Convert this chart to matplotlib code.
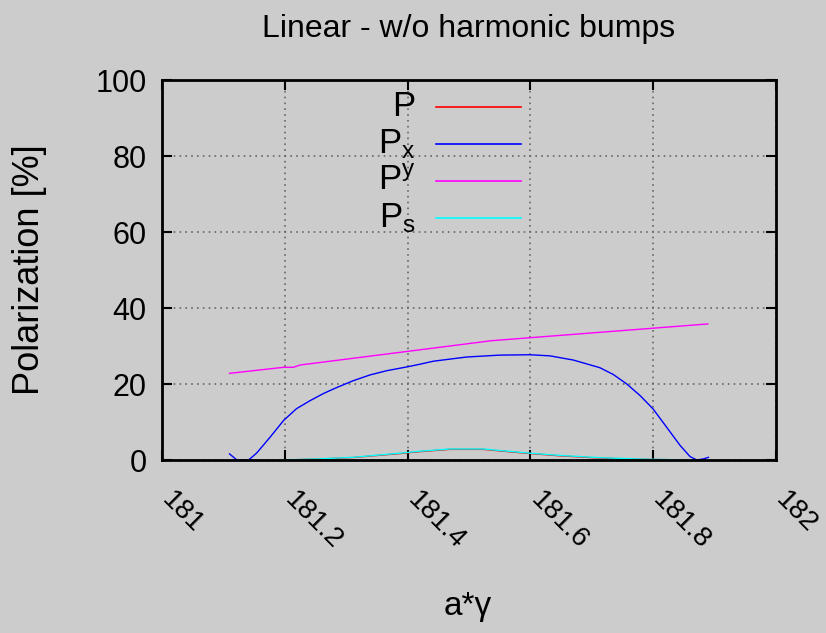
import matplotlib.pyplot as plt
import matplotlib.transforms as mtransforms
import numpy as np

plt.rcParams['font.family'] = ['Liberation Sans', 'DejaVu Sans']
plt.rcParams['mathtext.fontset'] = 'custom'
plt.rcParams['mathtext.rm'] = 'Liberation Sans'
plt.rcParams['mathtext.it'] = 'Liberation Sans'

# -------------------------------
# Data
# -------------------------------
x_py = [181.110, 181.198, 181.214, 181.225, 181.537, 181.889]
py = [22.8, 24.4, 24.4, 25.0, 31.4, 35.8]

x_px = [181.110, 181.122, 181.141, 181.154, 181.176, 181.198, 181.219, 181.241,
        181.263, 181.285, 181.312, 181.339, 181.366, 181.399, 181.420, 181.442,
        181.496, 181.550, 181.599, 181.632, 181.670, 181.713, 181.735, 181.757,
        181.779, 181.800, 181.822, 181.844, 181.860, 181.871, 181.882, 181.890]
px = [1.6, 0.0, 0.0, 1.8, 6.0, 10.4, 13.5, 15.6,
      17.5, 19.1, 20.9, 22.4, 23.5, 24.5, 25.2, 26.0,
      27.1, 27.6, 27.7, 27.4, 26.3, 24.3, 22.5, 20.0,
      16.9, 13.4, 8.6, 3.8, 0.9, 0.0, 0.3, 0.7]

x_p = [181.197, 181.257, 181.311, 181.388, 181.420, 181.469, 181.523, 181.550,
       181.599, 181.648, 181.713, 181.779, 181.860]
p = [0.0, 0.25, 0.65, 1.7, 2.2, 2.8, 2.8, 2.4, 1.7, 1.1, 0.5, 0.2, 0.0]
ps = [0.0, 0.3, 0.7, 1.8, 2.3, 2.9, 2.9, 2.5, 1.8, 1.2, 0.6, 0.25, 0.0]

labels = ["P", "$\\mathregular{P_x}$", "$\\mathregular{P^y}$", "$\\mathregular{P_s}$"]
colors = ["#ff0000", "#0000ff", "#ff00ff", "#00ffff"]

bg = "#cccccc"
W, H = 826, 633
fig = plt.figure(figsize=(W / 100, H / 100), dpi=100, facecolor=bg)
ax = fig.add_axes([162 / W, 1 - 460 / H, 614 / W, 380 / H], facecolor=bg)

series = [(x_p, p), (x_px, px), (x_py, py), (x_p, ps)]
for (xs, ys), c in zip(series, colors):
    ax.plot(xs, ys, color=c, lw=1.0)

ax.set_xlim(181, 182)
ax.set_ylim(0, 100)
ax.set_xticks(np.arange(181, 182.01, 0.2))
ax.set_xticklabels(["181", "181.2", "181.4", "181.6", "181.8", "182"])
ax.set_yticks(range(0, 101, 20))
ax.tick_params(direction='in', top=True, right=True, length=7, width=1.5,
               labelsize=22)
ax.tick_params(axis='y', pad=11)
ax.tick_params(axis='x', pad=26, labelsize=20)
shift = mtransforms.ScaledTranslation(4 / 100, 0, fig.dpi_scale_trans)
for lab in ax.get_xticklabels():
    lab.set_rotation(-45)
    lab.set_ha('left')
    lab.set_va('center')
    lab.set_rotation_mode('anchor')
    lab.set_transform(lab.get_transform() + shift)
for s in ax.spines.values():
    s.set_linewidth(2)
ax.grid(True, color='#666666', linestyle=(0, (1, 2.5)), lw=1.2)

# key, gnuplot style: right-aligned labels then sample line
rows = [0.930, 0.832, 0.735, 0.638]
for lab, c, yy in zip(labels, colors, rows):
    ax.text(0.413, yy - 0.025, lab, transform=ax.transAxes, ha='right',
            va='baseline', fontsize=25)
    ax.plot([0.446, 0.585], [yy, yy], transform=ax.transAxes, color=c, lw=1.2)

fig.text(469 / W, 1 - 37 / H, "Linear - w/o harmonic bumps", ha='center',
         va='baseline', fontsize=23)
fig.text(30 / W, 1 - 270 / H, "Polarization [%]", rotation=90, ha='center',
         va='center', fontsize=26)
fig.text(468 / W, 1 - 607 / H, "a*γ", ha='center', va='center', fontsize=24)

fig.savefig("out.png", dpi=100, facecolor=bg)
